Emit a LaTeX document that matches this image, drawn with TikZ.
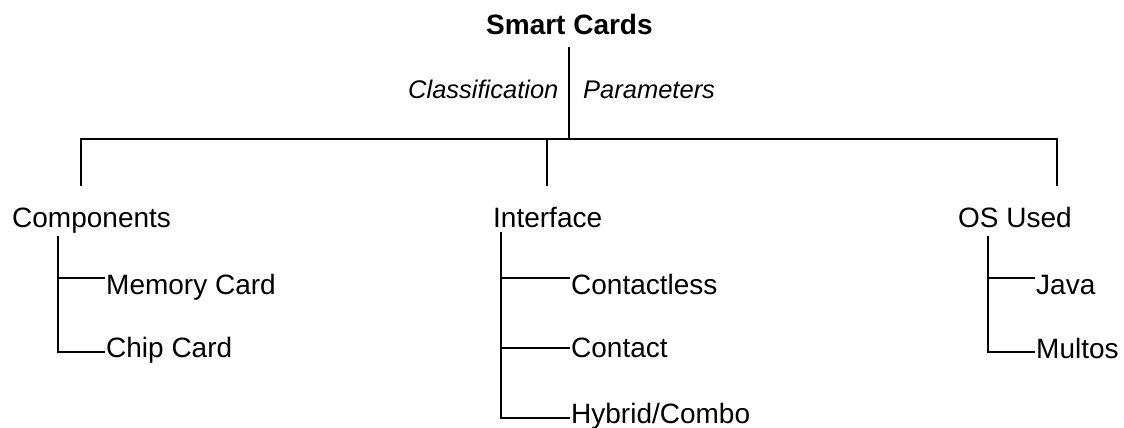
\documentclass[tikz,border=0pt]{standalone}
\usepackage{fontspec}
\setmainfont{Liberation Sans}
\begin{document}
\begin{tikzpicture}[x=1pt,y=-1pt,
  lbl/.style={anchor=base west,inner sep=0pt,font=\fontsize{28}{30}\selectfont},
  ital/.style={anchor=base west,inner sep=0pt,font=\fontsize{25.5}{28}\selectfont\itshape},
  conn/.style={line width=1.8pt,draw=black}]
\useasboundingbox[fill=white] (0,0) rectangle (1124,428);
% root
\node[lbl,font=\fontsize{28}{30}\selectfont\bfseries] (root) at (486,35) {Smart Cards};
\node[ital] (cls) at (408,98) {Classification};
\node[ital] (par) at (583,98) {Parameters};
% level 1
\node[lbl] (comp) at (12,227) {Components};
\node[lbl] (intf) at (493,227) {Interface};
\node[lbl] (os) at (958,227) {OS Used};
% leaves
\node[lbl] (mem) at (106,294) {Memory Card};
\node[lbl] (chip) at (106,357) {Chip Card};
\node[lbl] (cl) at (571,294) {Contactless};
\node[lbl] (ct) at (571,357) {Contact};
\node[lbl] (hy) at (571,423) {Hybrid/Combo};
\node[lbl] (java) at (1036,294) {Java};
\node[lbl] (mult) at (1036,358) {Multos};
% junction coordinates
\coordinate (rt) at (569,47);
\coordinate (rb) at (569,139);
\coordinate (hl) at (81,139);
\coordinate (hr) at (1057,139);
\coordinate (dc) at (81,186);
\coordinate (di) at (547,139);
\coordinate (dib) at (547,186);
\coordinate (dor) at (1057,186);
\coordinate (ct0) at (58,236);
\coordinate (it0) at (501,232);
\coordinate (ot0) at (988,236);
% trunk
\draw[conn] (rt) -- (rb);
\draw[conn] (dc) -- (hl) -- (hr) -- (dor);
\draw[conn] (di) -- (dib);
% components
\draw[conn] (ct0) |- (105,352);
\draw[conn] (58,278) -- (105,278);
% interface
\draw[conn] (it0) |- (570,418);
\draw[conn] (501,278) -- (570,278);
\draw[conn] (501,348) -- (570,348);
% os
\draw[conn] (ot0) |- (1035,352);
\draw[conn] (988,278) -- (1035,278);
\end{tikzpicture}
\end{document}
